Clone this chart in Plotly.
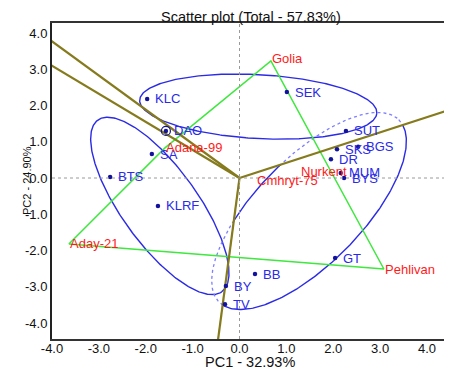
import numpy as np
import plotly.graph_objects as go

# ---------------- data ----------------
chart_title = "Scatter plot (Total - 57.83%)"
x_title = "PC1 - 32.93%"
y_title = "PC2 - 24.90%"

genotypes = ["KLC", "DAO", "SA", "BTS", "KLRF", "SEK", "SUT", "SKS", "BGS",
             "DR", "MUM", "BYS", "GT", "BB", "BY", "TV"]
geno_pc1 = [-1.97, -1.57, -1.87, -2.76, -1.74, 1.01, 2.27, 2.08, 2.53,
            1.95, 2.16, 2.23, 2.04, 0.33, -0.29, -0.31]
geno_pc2 = [2.18, 1.30, 0.66, 0.03, -0.77, 2.37, 1.30, 0.79, 0.86,
            0.52, 0.14, 0.00, -2.21, -2.65, -2.98, -3.48]

testers = ["Golia", "Adana-99", "Cmhryt-75", "Nurkent", "Aday-21", "Pehlivan"]
tester_pc1 = [0.67, -1.59, 0.35, 1.29, -3.64, 3.08]
tester_pc2 = [3.23, 0.83, -0.08, 0.17, -1.82, -2.51]

# polygon (convex hull) vertices, in drawing order
hull_names = ["Aday-21", "Adana-99", "Golia", "Pehlivan"]

# group ellipses: centre and two conjugate semi-diameters (PC1, PC2 units)
ell_cx = [0.40, -1.70, 1.483]
ell_cy = [1.97, -0.77, -0.910]
ell_ax = [2.53, 1.32, 1.914]
ell_ay = [-0.18, -2.37, 2.518]
ell_bx = [0.04, 0.66, 0.806]
ell_by = [0.88, 0.61, -1.025]
# ellipse drawn solid only inside the sector won by this tester (dotted elsewhere)
ell_sector = [None, None, "Pehlivan"]

tick_vals = [-4, -3, -2, -1, 0, 1, 2, 3, 4]
tick_text = ["-4.0", "-3.0", "-2.0", "-1.0", "0.0", "1.0", "2.0", "3.0", "4.0"]

# ---------------- styling ----------------
FONT = "Liberation Sans, Arial, sans-serif"
BLUE_TXT = "#2a2ae8"
BLUE_PT = "#12129c"
BLUE_ELL = "#2b2be6"
BLUE_DOT = "#7f7fff"
GREEN = "#3ee83e"
OLIVE = "#857a1c"
RED = "#ff1a1a"

fig = go.Figure()

# zero reference lines
fig.add_hline(y=0, line=dict(color="#9a9a9a", width=1, dash="dot"))
fig.add_vline(x=0, line=dict(color="#9a9a9a", width=1, dash="dot"))

tpos = {n: np.array([x, y]) for n, x, y in zip(testers, tester_pc1, tester_pc2)}
hull_pts = np.array([tpos[n] for n in hull_names])

# ellipses
t = np.linspace(0, 2 * np.pi, 361)
for i in range(len(ell_cx)):
    ex = ell_cx[i] + ell_ax[i] * np.cos(t) + ell_bx[i] * np.sin(t)
    ey = ell_cy[i] + ell_ay[i] * np.cos(t) + ell_by[i] * np.sin(t)
    if ell_sector[i] is None:
        fig.add_trace(go.Scatter(x=ex, y=ey, mode="lines", hoverinfo="skip",
                                 showlegend=False,
                                 line=dict(color=BLUE_ELL, width=1.4)))
        continue
    # which hull vertex "wins" in the direction of each ellipse point
    proj = np.outer(ex, hull_pts[:, 0]) + np.outer(ey, hull_pts[:, 1])
    win = np.array(hull_names)[np.argmax(proj, axis=1)]
    inside = win == ell_sector[i]
    solid = inside | np.roll(inside, 1) | np.roll(inside, -1)
    dotted = (~inside) | np.roll(~inside, 1) | np.roll(~inside, -1)
    fig.add_trace(go.Scatter(x=np.where(dotted, ex, np.nan),
                             y=np.where(dotted, ey, np.nan),
                             mode="lines", hoverinfo="skip", showlegend=False,
                             connectgaps=False,
                             line=dict(color=BLUE_DOT, width=1.3, dash="dot")))
    fig.add_trace(go.Scatter(x=np.where(solid, ex, np.nan),
                             y=np.where(solid, ey, np.nan),
                             mode="lines", hoverinfo="skip", showlegend=False,
                             connectgaps=False,
                             line=dict(color=BLUE_ELL, width=1.4)))

# polygon
hx = list(hull_pts[:, 0]) + [hull_pts[0, 0]]
hy = list(hull_pts[:, 1]) + [hull_pts[0, 1]]
fig.add_trace(go.Scatter(x=hx, y=hy, mode="lines", hoverinfo="skip",
                         showlegend=False, line=dict(color=GREEN, width=1.5)))

# rays from origin perpendicular to polygon sides
for k in range(len(hull_names)):
    p = hull_pts[k]
    q = hull_pts[(k + 1) % len(hull_names)]
    d = q - p
    s = -np.dot(p, d) / np.dot(d, d)
    foot = p + s * d
    end = foot / np.linalg.norm(foot) * 20
    fig.add_trace(go.Scatter(x=[0, end[0]], y=[0, end[1]], mode="lines",
                             hoverinfo="skip", showlegend=False,
                             line=dict(color=OLIVE, width=2.2)))

# genotype points
fig.add_trace(go.Scatter(
    x=geno_pc1, y=geno_pc2, mode="markers", showlegend=False,
    marker=dict(color=BLUE_PT, size=4.5)))

# circled genotype (DAO)
i_dao = genotypes.index("DAO")
fig.add_trace(go.Scatter(
    x=[geno_pc1[i_dao]], y=[geno_pc2[i_dao]], mode="markers", showlegend=False,
    marker=dict(symbol="circle-open", size=9, color=BLUE_PT,
                line=dict(width=1.2, color=BLUE_PT))))

annotations = []
for name, x, y in zip(genotypes, geno_pc1, geno_pc2):
    annotations.append(dict(text=name, x=x, y=y, xref="x", yref="y",
                            xanchor="left", yanchor="middle", xshift=6,
                            showarrow=False,
                            font=dict(family=FONT, size=13, color=BLUE_TXT)))
for name, x, y in zip(testers, tester_pc1, tester_pc2):
    annotations.append(dict(text=name, x=x, y=y, xref="x", yref="y",
                            xanchor="left", yanchor="middle", xshift=-1,
                            yshift=2 if name == "Golia" else 0,
                            showarrow=False,
                            font=dict(family=FONT, size=13, color=RED)))
annotations += [
    dict(text=x_title, xref="paper", yref="paper", x=0.495, y=-0.073,
         xanchor="center", yanchor="middle", showarrow=False,
         font=dict(family=FONT, size=14.5, color="#111")),
    dict(text=y_title, xref="paper", yref="paper", x=-0.0625, y=0.50,
         xanchor="center", yanchor="middle", showarrow=False, textangle=-90,
         font=dict(family=FONT, size=11, color="#111")),
]

# the page body adds an 8 px margin: the figure is sized to fit the window
fig.update_layout(
    width=444, height=362,
    margin=dict(l=44, r=0, t=15, b=31),
    paper_bgcolor="white", plot_bgcolor="white",
    font=dict(family=FONT, size=12, color="#111"),
    title=dict(text=chart_title, x=0.547, xref="container", xanchor="center",
               y=0.975, yref="container", yanchor="middle",
               font=dict(family=FONT, size=14.5, color="#111")),
    xaxis=dict(range=[-4.0, 4.533], tickvals=tick_vals, ticktext=tick_text,
               showgrid=False, zeroline=False, showline=True, mirror=True,
               linecolor="#333", linewidth=2, ticks="", automargin=False,
               ticklabelstandoff=-4,
               tickfont=dict(family=FONT, size=13, color="#111")),
    yaxis=dict(range=[-4.441, 4.276], tickvals=tick_vals, ticktext=tick_text,
               showgrid=False, zeroline=False, showline=True, mirror=False,
               linecolor="#222", linewidth=2, ticks="", automargin=False,
               tickfont=dict(family=FONT, size=13, color="#111")),
    annotations=annotations,
)

fig.write_html("out.html")
